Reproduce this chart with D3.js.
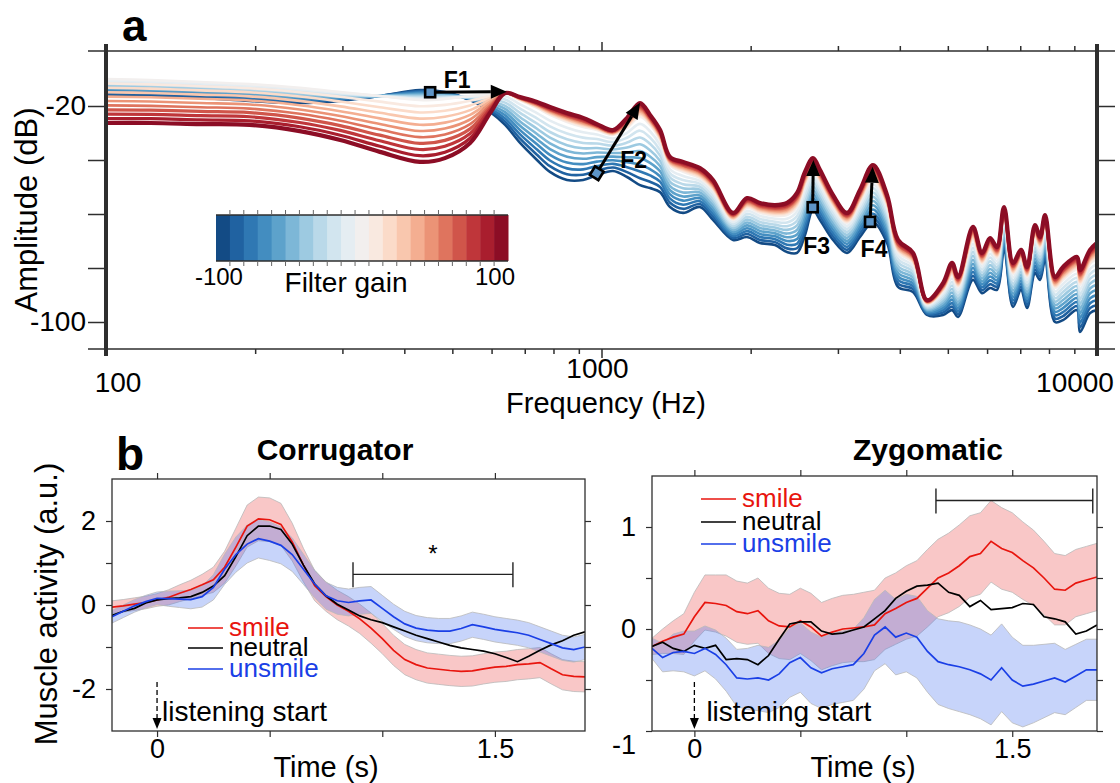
<!DOCTYPE html>
<html><head><meta charset="utf-8">
<script src="https://cdn.jsdelivr.net/npm/d3@7/dist/d3.min.js"></script>
<style>
body{margin:0;background:#fff}
svg{display:block}
text{font-family:"Liberation Sans",Arial,Helvetica,sans-serif;fill:#000}
</style></head><body>
<svg id="chart" width="1120" height="783"></svg>
<script>
// ---------------- Panel a data ----------------
const freqHz=[100,123,155,195,246,297,357,430,483,543,596,639,685,741,787,852,918,979,1055,1126,1196,1253,1313,1375,1461,1580,1679,1843,1967,2089,2240,2368,2481,2574,2672,2761,2933,3130,3324,3531,3770,3967,4253,4540,4890,5099,5243,5619,5860,6083,6283,6492,6769,7025,7224,7498,7674,7855,8228,8539,9112,9241,9680,10000];
// amplitude (dB) of the gain -100 curve
const ampLoDb=[-15.9,-16.3,-17.0,-18.1,-18.9,-18.1,-16.3,-14.1,-14.8,-17.8,-22.2,-27.0,-33.7,-40.0,-44.4,-47.4,-47.4,-45.6,-44.1,-46.3,-49.3,-50.4,-51.9,-57.4,-59.6,-57.4,-62.2,-69.6,-68.5,-70.7,-71.5,-74.1,-74.4,-67.8,-58.5,-62.2,-69.6,-74.4,-68.5,-63.0,-70.7,-87.0,-88.9,-97.4,-97.4,-95.6,-98.1,-84.4,-89.3,-87.4,-88.1,-73.3,-94.4,-88.1,-94.8,-81.9,-84.4,-77.0,-100.0,-99.3,-95.6,-103.7,-96.7,-95.6];
// amplitude (dB) of the gain 0 curve
const ampMidDb=[-10.0,-10.4,-11.1,-11.9,-13.3,-14.8,-16.3,-17.8,-17.4,-16.3,-15.6,-15.2,-17.8,-20.7,-23.3,-25.9,-27.8,-28.9,-30.7,-28.1,-24.1,-27.0,-32.6,-41.9,-44.4,-46.7,-51.1,-62.2,-57.8,-59.6,-60.7,-60.4,-57.4,-49.3,-43.7,-48.1,-57.0,-63.3,-55.6,-47.4,-57.0,-74.1,-78.1,-93.3,-88.5,-82.6,-87.0,-69.6,-78.5,-73.3,-76.3,-61.1,-82.2,-77.0,-83.3,-68.5,-72.6,-64.4,-87.4,-84.4,-80.7,-86.3,-78.5,-76.7];
// amplitude (dB) of the gain +100 curve
const ampHiDb=[-26.3,-26.3,-26.7,-27.0,-29.3,-32.6,-37.0,-40.7,-39.3,-33.7,-22.6,-15.2,-16.7,-18.5,-20.4,-22.6,-24.4,-26.7,-28.9,-24.4,-18.9,-23.3,-28.9,-38.9,-40.7,-43.0,-47.4,-59.6,-54.1,-55.9,-56.7,-55.9,-52.2,-44.4,-39.3,-43.7,-53.0,-59.6,-51.1,-41.9,-53.0,-69.6,-74.4,-91.9,-85.6,-78.1,-83.3,-64.8,-74.4,-68.9,-72.2,-57.4,-78.1,-73.3,-79.6,-64.1,-68.5,-60.4,-83.3,-79.6,-75.9,-80.7,-73.3,-70.7];
const filterGains=[-100,-90,-80,-70,-60,-50,-40,-30,-20,-10,0,10,20,30,40,50,60,70,80,90,100];
const xMajorA=[100,1000,10000];
const xMinorA=[200,300,400,500,600,700,800,900,2000,3000,4000,5000,6000,7000,8000,9000];
const yTicksA=[-100,-80,-60,-40,-20];
const yLabelsA=[-20,-100];
const formantNames=['F1','F2','F3','F4'];
const formantFromHz=[451,978,2668,3483];
const formantFromDb=[-14.9,-44.9,-57.5,-62.9];
const formantToHz=[644,1196,2676,3526];
const formantToDb=[-14.7,-18.8,-40.0,-42.5];

// ---------------- Panel b data ----------------
const timeS=[-0.2,-0.15,-0.1,-0.05,0,0.05,0.1,0.15,0.2,0.25,0.3,0.35,0.4,0.45,0.5,0.55,0.6,0.65,0.7,0.75,0.8,0.85,0.9,0.95,1.0,1.05,1.1,1.15,1.2,1.25,1.3,1.35,1.4,1.45,1.5,1.55,1.6,1.65,1.7,1.75,1.8,1.85,1.9];
const corrSmile=[-0.05,-0.02,0.02,0.06,0.12,0.18,0.28,0.37,0.48,0.60,0.90,1.38,1.88,2.05,2.03,1.92,1.50,0.95,0.46,0.20,0.00,-0.15,-0.33,-0.55,-0.80,-1.08,-1.30,-1.42,-1.50,-1.53,-1.56,-1.58,-1.57,-1.52,-1.48,-1.46,-1.42,-1.40,-1.37,-1.52,-1.66,-1.70,-1.71];
const corrSmileSe=[0.15,0.15,0.15,0.15,0.15,0.18,0.2,0.22,0.25,0.3,0.38,0.45,0.5,0.52,0.52,0.5,0.45,0.4,0.36,0.35,0.35,0.35,0.35,0.36,0.36,0.36,0.36,0.36,0.36,0.36,0.36,0.36,0.36,0.36,0.36,0.36,0.36,0.36,0.36,0.36,0.36,0.36,0.36];
const corrNeutral=[-0.25,-0.15,-0.08,0.05,0.12,0.15,0.17,0.20,0.30,0.45,0.70,1.15,1.65,1.88,1.88,1.80,1.45,0.95,0.50,0.22,0.02,-0.12,-0.26,-0.35,-0.42,-0.52,-0.62,-0.72,-0.80,-0.88,-0.96,-1.02,-1.06,-1.10,-1.16,-1.25,-1.35,-1.22,-1.08,-0.95,-0.85,-0.72,-0.64];
const corrUnsmile=[-0.28,-0.15,-0.02,0.08,0.16,0.15,0.14,0.13,0.20,0.42,0.85,1.20,1.45,1.58,1.52,1.42,1.20,0.85,0.50,0.22,0.10,0.06,0.10,0.12,-0.08,-0.28,-0.45,-0.55,-0.60,-0.62,-0.62,-0.56,-0.47,-0.52,-0.58,-0.62,-0.66,-0.72,-0.82,-0.92,-1.02,-1.06,-1.00];
const corrUnsmileSe=[0.15,0.15,0.15,0.15,0.15,0.18,0.2,0.22,0.25,0.3,0.36,0.42,0.45,0.46,0.46,0.44,0.4,0.36,0.33,0.32,0.32,0.32,0.32,0.32,0.31,0.3,0.3,0.3,0.3,0.3,0.3,0.3,0.3,0.3,0.3,0.3,0.3,0.3,0.3,0.3,0.3,0.3,0.3];
const zygSmile=[-0.17,-0.12,-0.08,-0.05,0.12,0.26,0.25,0.23,0.17,0.15,0.18,0.08,0.03,0.02,0.08,0.02,-0.07,-0.03,0.00,0.01,0.02,0.04,0.15,0.20,0.26,0.30,0.40,0.50,0.55,0.62,0.71,0.74,0.86,0.79,0.75,0.67,0.60,0.50,0.39,0.38,0.45,0.48,0.51];
const zygSmileSe=[0.08,0.12,0.16,0.2,0.24,0.27,0.28,0.3,0.3,0.3,0.32,0.32,0.32,0.32,0.32,0.33,0.33,0.33,0.33,0.33,0.34,0.34,0.35,0.35,0.36,0.37,0.38,0.38,0.39,0.4,0.4,0.4,0.4,0.4,0.39,0.38,0.37,0.36,0.35,0.34,0.33,0.33,0.33];
const zygNeutral=[-0.17,-0.13,-0.19,-0.22,-0.16,-0.19,-0.16,-0.30,-0.29,-0.30,-0.35,-0.26,-0.10,0.05,0.07,0.07,-0.02,-0.05,-0.04,-0.01,0.02,0.10,0.18,0.30,0.37,0.42,0.43,0.45,0.36,0.33,0.22,0.28,0.19,0.20,0.21,0.25,0.24,0.12,0.10,0.07,-0.05,-0.02,0.04];
const zygUnsmile=[-0.19,-0.28,-0.23,-0.22,-0.24,-0.19,-0.25,-0.35,-0.48,-0.49,-0.48,-0.50,-0.44,-0.33,-0.28,-0.38,-0.43,-0.39,-0.37,-0.35,-0.24,-0.06,0.02,-0.08,-0.04,-0.08,-0.22,-0.32,-0.35,-0.37,-0.40,-0.44,-0.50,-0.38,-0.50,-0.56,-0.54,-0.51,-0.48,-0.52,-0.46,-0.40,-0.40];
const zygUnsmileSe=[0.1,0.14,0.18,0.2,0.22,0.22,0.24,0.26,0.28,0.3,0.32,0.32,0.33,0.34,0.34,0.35,0.35,0.35,0.35,0.35,0.35,0.35,0.36,0.37,0.38,0.4,0.4,0.42,0.43,0.44,0.44,0.44,0.44,0.43,0.42,0.4,0.38,0.36,0.34,0.32,0.31,0.3,0.3];
const condNames=['smile','neutral','unsmile'];
const sigCorr=[0.87,1.58], sigCorrLevel=0.73;
const sigZyg=[1.14,1.88], sigZygLevel=1.26;

// ---------------- drawing ----------------
const FONT='"Liberation Sans",Arial,Helvetica,sans-serif';
const AX='#2e2e2e';
const RED='#e8150e', BLUE='#1a3fe6', BLACK='#000';
const svg=d3.select('#chart');
const defs=svg.append('defs');

// ===== Panel a =====
const xA=d3.scaleLog().domain([100,10000]).range([106,1097]);
const yA=d3.scaleLinear().domain([-110,0]).range([349,52]);
defs.append('clipPath').attr('id','clipA').append('rect').attr('x',106).attr('y',30).attr('width',991).attr('height',330);
const gA=svg.append('g');
const colorOf=g=>d3.interpolateRdBu(0.5-g/100*0.45);
const curveVals=g=>freqHz.map((f,i)=>{const m=ampMidDb[i];const e=g<0?ampLoDb[i]:ampHiDb[i];return [f,m+Math.abs(g)/100*(e-m)];});
const lineA=d3.line().x(d=>xA(d[0])).y(d=>yA(d[1])).curve(d3.curveCatmullRom.alpha(0.5));
const curveG=gA.append('g').attr('clip-path','url(#clipA)');
filterGains.forEach(g=>{
  curveG.append('path').attr('d',lineA(curveVals(g))).attr('fill','none')
    .attr('stroke',colorOf(g)).attr('stroke-width',g===100?4.2:(g>=70?3.2:2.6)).attr('stroke-linejoin','round');
});

function styleAxis(sel,size){
  sel.select('.domain').remove();
  sel.selectAll('line').attr('stroke',AX).attr('stroke-width',1.5);
  sel.selectAll('text').attr('font-size',size).style('font-family',FONT).attr('fill','#000');
}
// y ticks
gA.append('g').attr('transform','translate(106,0)')
  .call(d3.axisLeft(yA).tickValues(yTicksA).tickSize(18).tickPadding(2).tickFormat(d=>yLabelsA.includes(d)?String(d):''))
  .call(s=>styleAxis(s,28));
gA.append('g').attr('transform','translate(1097,0)')
  .call(d3.axisRight(yA).tickValues(yTicksA).tickSize(18).tickFormat(''))
  .call(s=>styleAxis(s,28));
// x ticks top/bottom
gA.append('g').attr('transform','translate(0,51)').call(d3.axisTop(xA).tickValues(xMinorA).tickSize(5).tickFormat('')).call(s=>styleAxis(s,28));
gA.append('g').attr('transform','translate(0,51)').call(d3.axisTop(xA).tickValues([1000]).tickSize(9).tickFormat('')).call(s=>styleAxis(s,28));
gA.append('g').attr('transform','translate(0,349)').call(d3.axisBottom(xA).tickValues(xMinorA).tickSize(5).tickFormat('')).call(s=>styleAxis(s,28));
gA.append('g').attr('transform','translate(0,349)').call(d3.axisBottom(xA).tickValues([1000]).tickSize(9).tickFormat('')).call(s=>styleAxis(s,28));
// frame
gA.append('line').attr('x1',88).attr('x2',1115).attr('y1',51).attr('y2',51).attr('stroke',AX).attr('stroke-width',1.5);
gA.append('line').attr('x1',88).attr('x2',1115).attr('y1',349).attr('y2',349).attr('stroke',AX).attr('stroke-width',1.5);
[106,1097].forEach(xx=>gA.append('line').attr('x1',xx).attr('x2',xx).attr('y1',44).attr('y2',356).attr('stroke',AX).attr('stroke-width',4));
// x labels
const xLabOff={100:[12,392],1000:[-4,378],10000:[-22,392]};
xMajorA.forEach(v=>{
  gA.append('text').attr('x',xA(v)+xLabOff[v][0]).attr('y',xLabOff[v][1]).attr('text-anchor','middle').attr('font-size',28).text(v);
});
gA.append('text').attr('x',606).attr('y',413).attr('text-anchor','middle').attr('font-size',29).text('Frequency (Hz)');
gA.append('text').attr('transform','translate(37,210) rotate(-90)').attr('text-anchor','middle').attr('font-size',31).text('Amplitude (dB)');
svg.append('text').attr('x',122).attr('y',41).attr('font-size',44).attr('font-weight','bold').text('a');

// formant arrows
const fLabelOff=[[27,-4],[37,-5],[4,47],[4,35]];
formantNames.forEach((nm,i)=>{
  const x0=xA(formantFromHz[i]),y0=yA(formantFromDb[i]),x1=xA(formantToHz[i]),y1=yA(formantToDb[i]);
  const ang=Math.atan2(y1-y0,x1-x0);
  const L=16,Wd=7;
  const bx=x1-L*Math.cos(ang),by=y1-L*Math.sin(ang);
  gA.append('line').attr('x1',x0).attr('y1',y0).attr('x2',bx).attr('y2',by).attr('stroke','#000').attr('stroke-width',3);
  const px=-Math.sin(ang),py=Math.cos(ang);
  gA.append('path').attr('d',`M${x1},${y1}L${bx+px*Wd},${by+py*Wd}L${bx-px*Wd},${by-py*Wd}Z`).attr('fill','#000');
  const rot=i===1?ang*180/Math.PI:0;
  gA.append('rect').attr('x',-5).attr('y',-5).attr('width',10).attr('height',10)
    .attr('transform',`translate(${x0},${y0}) rotate(${rot})`)
    .attr('fill','#5d95c8').attr('stroke','#000').attr('stroke-width',2.6);
  gA.append('text').attr('x',x0+fLabelOff[i][0]).attr('y',y0+fLabelOff[i][1]).attr('text-anchor','middle')
    .attr('font-size',23).attr('font-weight','bold').text(nm);
});

// colorbar
const cb=d3.scaleBand().domain(filterGains).range([216,508]);
const cbG=svg.append('g');
filterGains.forEach(g=>{
  cbG.append('rect').attr('x',cb(g)).attr('y',215).attr('width',cb.bandwidth()+0.5).attr('height',46).attr('fill',colorOf(g));
});
cbG.append('line').attr('x1',216).attr('x2',508).attr('y1',215).attr('y2',215).attr('stroke',AX).attr('stroke-width',1.5);
cbG.append('line').attr('x1',216).attr('x2',508).attr('y1',261).attr('y2',261).attr('stroke',AX).attr('stroke-width',1.5);
filterGains.slice(1).forEach(g=>{
  const xx=cb(g);
  cbG.append('line').attr('x1',xx).attr('x2',xx).attr('y1',210).attr('y2',215).attr('stroke','#666').attr('stroke-width',1);
  cbG.append('line').attr('x1',xx).attr('x2',xx).attr('y1',261).attr('y2',266).attr('stroke','#666').attr('stroke-width',1);
});
cbG.append('text').attr('x',cb(-100)+cb.bandwidth()/2-4).attr('y',285).attr('text-anchor','middle').attr('font-size',24).text('-100');
cbG.append('text').attr('x',cb(100)+cb.bandwidth()/2-6).attr('y',285).attr('text-anchor','middle').attr('font-size',24).text('100');
cbG.append('text').attr('x',346).attr('y',292).attr('text-anchor','middle').attr('font-size',28).text('Filter gain');

// ===== Panel b =====
svg.append('text').attr('x',116).attr('y',470).attr('font-size',46).attr('font-weight','bold').text('b');

function panel(cfg){
  const g=svg.append('g');
  const xs=d3.scaleLinear().domain([-0.2,1.9]).range([cfg.x0,cfg.x1]);
  const ys=d3.scaleLinear().domain(cfg.yDom).range([731,cfg.yTop]);
  const cid='clip'+cfg.id;
  defs.append('clipPath').attr('id',cid).append('rect').attr('x',cfg.x0).attr('y',cfg.yTop).attr('width',cfg.x1-cfg.x0).attr('height',731-cfg.yTop);
  const plot=g.append('g').attr('clip-path',`url(#${cid})`);
  const area=(v,se)=>d3.area().x((d,i)=>xs(timeS[i])).y0((d,i)=>ys(v[i]-se[i])).y1((d,i)=>ys(v[i]+se[i]))(v);
  plot.append('path').attr('d',area(cfg.smile,cfg.smileSe)).attr('fill','rgba(236,84,84,0.33)').attr('stroke','#b9b9b9').attr('stroke-width',0.8);
  plot.append('path').attr('d',area(cfg.unsmile,cfg.unsmileSe)).attr('fill','rgba(70,112,238,0.30)').attr('stroke','#b9b9b9').attr('stroke-width',0.8);
  const ln=v=>d3.line().x((d,i)=>xs(timeS[i])).y(d=>ys(d))(v);
  plot.append('path').attr('d',ln(cfg.smile)).attr('fill','none').attr('stroke',RED).attr('stroke-width',1.7);
  plot.append('path').attr('d',ln(cfg.neutral)).attr('fill','none').attr('stroke',BLACK).attr('stroke-width',1.7);
  plot.append('path').attr('d',ln(cfg.unsmile)).attr('fill','none').attr('stroke',BLUE).attr('stroke-width',1.7);
  // axes
  const xt=[0,0.5,1,1.5];
  g.append('g').attr('transform','translate(0,731)').call(d3.axisBottom(xs).tickValues(xt).tickSize(6).tickPadding(2).tickFormat(d=>d===0?'0':d===1.5?'1.5':'')).call(s=>styleAxis(s,27));
  g.append('g').attr('transform',`translate(0,${cfg.yTop})`).call(d3.axisTop(xs).tickValues(xt).tickSize(6).tickFormat('')).call(s=>styleAxis(s,27));
  g.append('g').attr('transform',`translate(${cfg.x0},0)`).call(d3.axisLeft(ys).tickValues(cfg.yTicks).tickSize(6).tickPadding(10).tickFormat(d=>cfg.yLabels.includes(d)?String(d):'')).call(s=>styleAxis(s,27))
    .call(s=>s.selectAll('text').attr('dy',d=>d===cfg.lowLabel?'0.85em':'0.32em'));
  g.append('g').attr('transform',`translate(${cfg.x1},0)`).call(d3.axisRight(ys).tickValues(cfg.yTicks).tickSize(6).tickFormat('')).call(s=>styleAxis(s,27));
  g.selectAll('.tick line').attr('stroke-width',1.2);
  g.append('rect').attr('x',cfg.x0).attr('y',cfg.yTop).attr('width',cfg.x1-cfg.x0).attr('height',731-cfg.yTop).attr('fill','none').attr('stroke',AX).attr('stroke-width',1.3);
  // titles
  g.append('text').attr('x',cfg.titleX).attr('y',460).attr('text-anchor','middle').attr('font-size',30).attr('font-weight','bold').text(cfg.title);
  g.append('text').attr('x',cfg.timeX).attr('y',777).attr('text-anchor','middle').attr('font-size',29).text('Time (s)');
  // legend
  const cols=[RED,BLACK,BLUE];
  condNames.forEach((nm,i)=>{
    const ly=cfg.legY[i];
    g.append('line').attr('x1',cfg.legX).attr('x2',cfg.legX+35).attr('y1',ly).attr('y2',ly).attr('stroke',cols[i]).attr('stroke-width',1.7);
    g.append('text').attr('x',cfg.legX+41).attr('y',ly+8).attr('font-size',26).style('fill',cols[i]).text(nm);
  });
  // listening start
  const x0=xs(0);
  g.append('line').attr('x1',x0).attr('x2',x0).attr('y1',682).attr('y2',719).attr('stroke','#000').attr('stroke-width',1.3).attr('stroke-dasharray','5,3');
  g.append('path').attr('d',`M${x0-4.5},${718}L${x0+4.5},${718}L${x0},${729}Z`).attr('fill','#000');
  g.append('text').attr('x',x0+cfg.lsDx).attr('y',721).attr('font-size',28).text('listening start');
  // significance bar
  const by=ys(cfg.sigLevel);
  g.append('line').attr('x1',xs(cfg.sig[0])).attr('x2',xs(cfg.sig[1])).attr('y1',by).attr('y2',by).attr('stroke','#222').attr('stroke-width',1.4);
  cfg.sig.forEach(t=>g.append('line').attr('x1',xs(t)).attr('x2',xs(t)).attr('y1',by-12).attr('y2',by+13).attr('stroke','#222').attr('stroke-width',1.4));
  if(cfg.star) g.append('text').attr('x',xs((cfg.sig[0]+cfg.sig[1])/2)).attr('y',by-12).attr('text-anchor','middle').attr('font-size',24).text('*');
  return {xs,ys};
}

panel({id:'L',x0:112,x1:585,yTop:479,yDom:[-3,3],yTicks:[-2,-1,0,1,2],yLabels:[-2,0,2],lowLabel:null,
  smile:corrSmile,smileSe:corrSmileSe,neutral:corrNeutral,unsmile:corrUnsmile,unsmileSe:corrUnsmileSe,
  title:'Corrugator',titleX:335,timeX:326,legX:188,legY:[628,648,669],lsDx:5,sig:sigCorr,sigLevel:sigCorrLevel,star:true});
panel({id:'R',x0:652,x1:1097,yTop:476,yDom:[-1,1.5],yTicks:[-1,-0.5,0,0.5,1],yLabels:[-1,0,1],lowLabel:-1,
  smile:zygSmile,smileSe:zygSmileSe,neutral:zygNeutral,unsmile:zygUnsmile,unsmileSe:zygUnsmileSe,
  title:'Zygomatic',titleX:928,timeX:863,legX:701,legY:[499,522,544],lsDx:12,sig:sigZyg,sigLevel:sigZygLevel,star:false});

svg.append('text').attr('transform','translate(57,604) rotate(-90)').attr('text-anchor','middle').attr('font-size',31).text('Muscle activity (a.u.)');
</script>
</body></html>
